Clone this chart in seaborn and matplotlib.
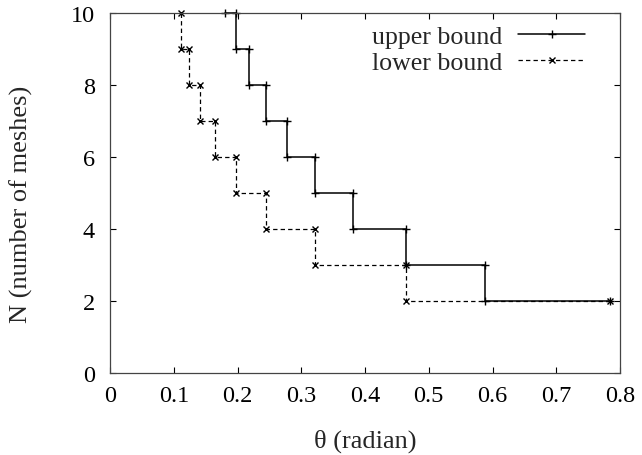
import pandas as pd
import numpy as np
import matplotlib
matplotlib.use('Agg')
import matplotlib.pyplot as plt
import seaborn as sns

# step points (theta in radian, N meshes)
upper_theta = [0.785, 0.588, 0.588, 0.4636, 0.4636, 0.3805, 0.3805, 0.3217, 0.3217,
               0.2783, 0.2783, 0.245, 0.245, 0.2187, 0.2187, 0.1974, 0.1974, 0.18]
upper_n = [2, 2, 3, 3, 4, 4, 5, 5, 6, 6, 7, 7, 8, 8, 9, 9, 10, 10]

lower_theta = [0.785, 0.4636, 0.4636, 0.3217, 0.3217, 0.245, 0.245, 0.1974, 0.1974,
               0.1651, 0.1651, 0.1419, 0.1419, 0.1244, 0.1244, 0.1107, 0.1107]
lower_n = [2, 2, 3, 3, 4, 4, 5, 5, 6, 6, 7, 7, 8, 8, 9, 9, 10]

x_ticks = [0, 0.1, 0.2, 0.3, 0.4, 0.5, 0.6, 0.7, 0.8]
y_ticks = [0, 2, 4, 6, 8, 10]

sns.set_style('ticks')
plt.rcParams['font.family'] = ['Liberation Serif', 'DejaVu Serif']
plt.rcParams['font.size'] = 17.5

up = pd.DataFrame({'theta': upper_theta, 'N': upper_n})
lo = pd.DataFrame({'theta': lower_theta, 'N': lower_n})

fig = plt.figure(figsize=(6.42, 4.56), dpi=100)
ax = fig.add_axes([110 / 642, 82 / 456, 510 / 642, 360 / 456])

sns.lineplot(data=up, x='theta', y='N', ax=ax, sort=False, estimator=None,
             color='black', lw=1.1, marker='+', markersize=6, mew=1.0,
             mec='black', label='upper bound', clip_on=False)
sns.lineplot(data=lo, x='theta', y='N', ax=ax, sort=False, estimator=None,
             color='black', lw=0.9, marker='x', markersize=4.5, mew=1.0,
             mec='black', dashes=(3.5, 2.5), label='lower bound', clip_on=False)

ax.set_xlim(0, 0.8)
ax.set_ylim(0, 10)
ax.set_xticks(x_ticks)
ax.set_xticklabels(['0', '0.1', '0.2', '0.3', '0.4', '0.5', '0.6', '0.7', '0.8'])
ax.set_yticks(y_ticks)
ax.tick_params(direction='in', length=4.5, width=0.8, top=True, right=True,
               colors='black', labelsize=17.5)
ax.tick_params(axis='x', pad=9)
ax.tick_params(axis='y', pad=11)
for s in ax.spines.values():
    s.set_color('#444444')
    s.set_linewidth(0.9)

ax.set_xlabel('θ (radian)', fontsize=19)
ax.set_ylabel('N (number of meshes)', fontsize=19)
ax.xaxis.set_label_coords(0.5, -0.155)
ax.yaxis.set_label_coords(-0.15, 0.47)

ax.legend(loc='upper right', bbox_to_anchor=(598 / 642, 1 - 13 / 456),
          bbox_transform=fig.transFigure, frameon=False, markerfirst=False,
          handlelength=2.6, handletextpad=0.6, borderpad=0, labelspacing=0.1,
          fontsize=18.6)

fig.savefig('out.png', dpi=100)
